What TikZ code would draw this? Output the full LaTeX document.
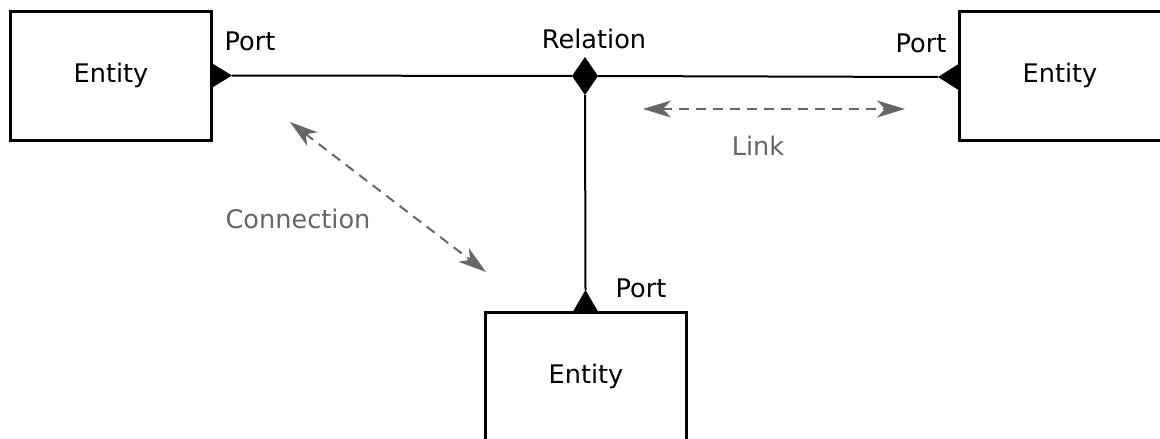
\documentclass[tikz,border=0pt]{standalone}
\usepackage{fontspec}
\setmainfont{DejaVu Sans}
\usetikzlibrary{arrows.meta,shapes.geometric}
\definecolor{hintgray}{HTML}{666666}
\begin{document}
\begin{tikzpicture}[x=1pt,y=-1pt,
  every node/.style={font=\fontsize{25.6}{30}\selectfont},
  entity/.style={draw, line width=3pt, minimum width=201pt, minimum height=129pt,
    inner sep=0pt, outer sep=0pt, anchor=north west, text height=18pt, text depth=6pt},
  relation/.style={shape=diamond, fill=black, draw=none, minimum width=26pt,
    minimum height=38pt, inner sep=0pt, outer sep=0pt},
  portfill/.style={fill=black},
  wire/.style={line width=2pt, black},
  hint/.style={line width=2pt, hintgray, dash pattern=on 10pt off 7pt,
    {Stealth[length=28pt,width=17pt,inset=8pt]}-{Stealth[length=28pt,width=17pt,inset=8pt]}},
  lbl/.style={anchor=base, inner sep=0pt},
  hintlbl/.style={anchor=base, inner sep=0pt, text=hintgray}]
\clip (0,0) rectangle (1160,439);
\fill[white] (0,0) rectangle (1160,439);

% entities
\node[entity] (eL) at (10.5,11.5) {Entity};
\node[entity, minimum width=205pt] (eR) at (959.5,11.5) {\hspace*{-4pt}Entity};
\node[entity] (eB) at (485.5,312.5) {Entity};

% relation diamond
\node[relation] (rel) at (585,76) {};

% ports (filled triangles on the entity borders)
\coordinate (pL) at (232,75.5);
\coordinate (pR) at (938,77);
\coordinate (pB) at (585.5,290);
\fill[portfill] (211.5,63) -- (pL) -- (211.5,88) -- cycle;
\fill[portfill] (958.5,64) -- (pR) -- (958.5,90) -- cycle;
\fill[portfill] (573,311.5) -- (pB) -- (598,311.5) -- cycle;

% wires from ports to the relation
\draw[wire] (pL) -- (rel.west);
\draw[wire] (rel.east) -- (pR);
\draw[wire] (rel.south) -- (pB);

% labels
\node[lbl] (tPL) at (250,50) {Port};
\node[lbl] (tRel) at (594,48) {Relation};
\node[lbl] (tPR) at (921,52) {Port};
\node[lbl] (tPB) at (641,297) {Port};

% dashed hints
\coordinate (c1) at (290,122);
\coordinate (c2) at (486,272);
\draw[hint] (c1) -- (c2);
\node[hintlbl] (tConn) at (298,228) {Connection};

\coordinate (l1) at (643,109);
\coordinate (l2) at (905,109);
\draw[hint] (l1) -- (l2);
\node[hintlbl] (tLink) at (758,155) {Link};
\end{tikzpicture}
\end{document}
